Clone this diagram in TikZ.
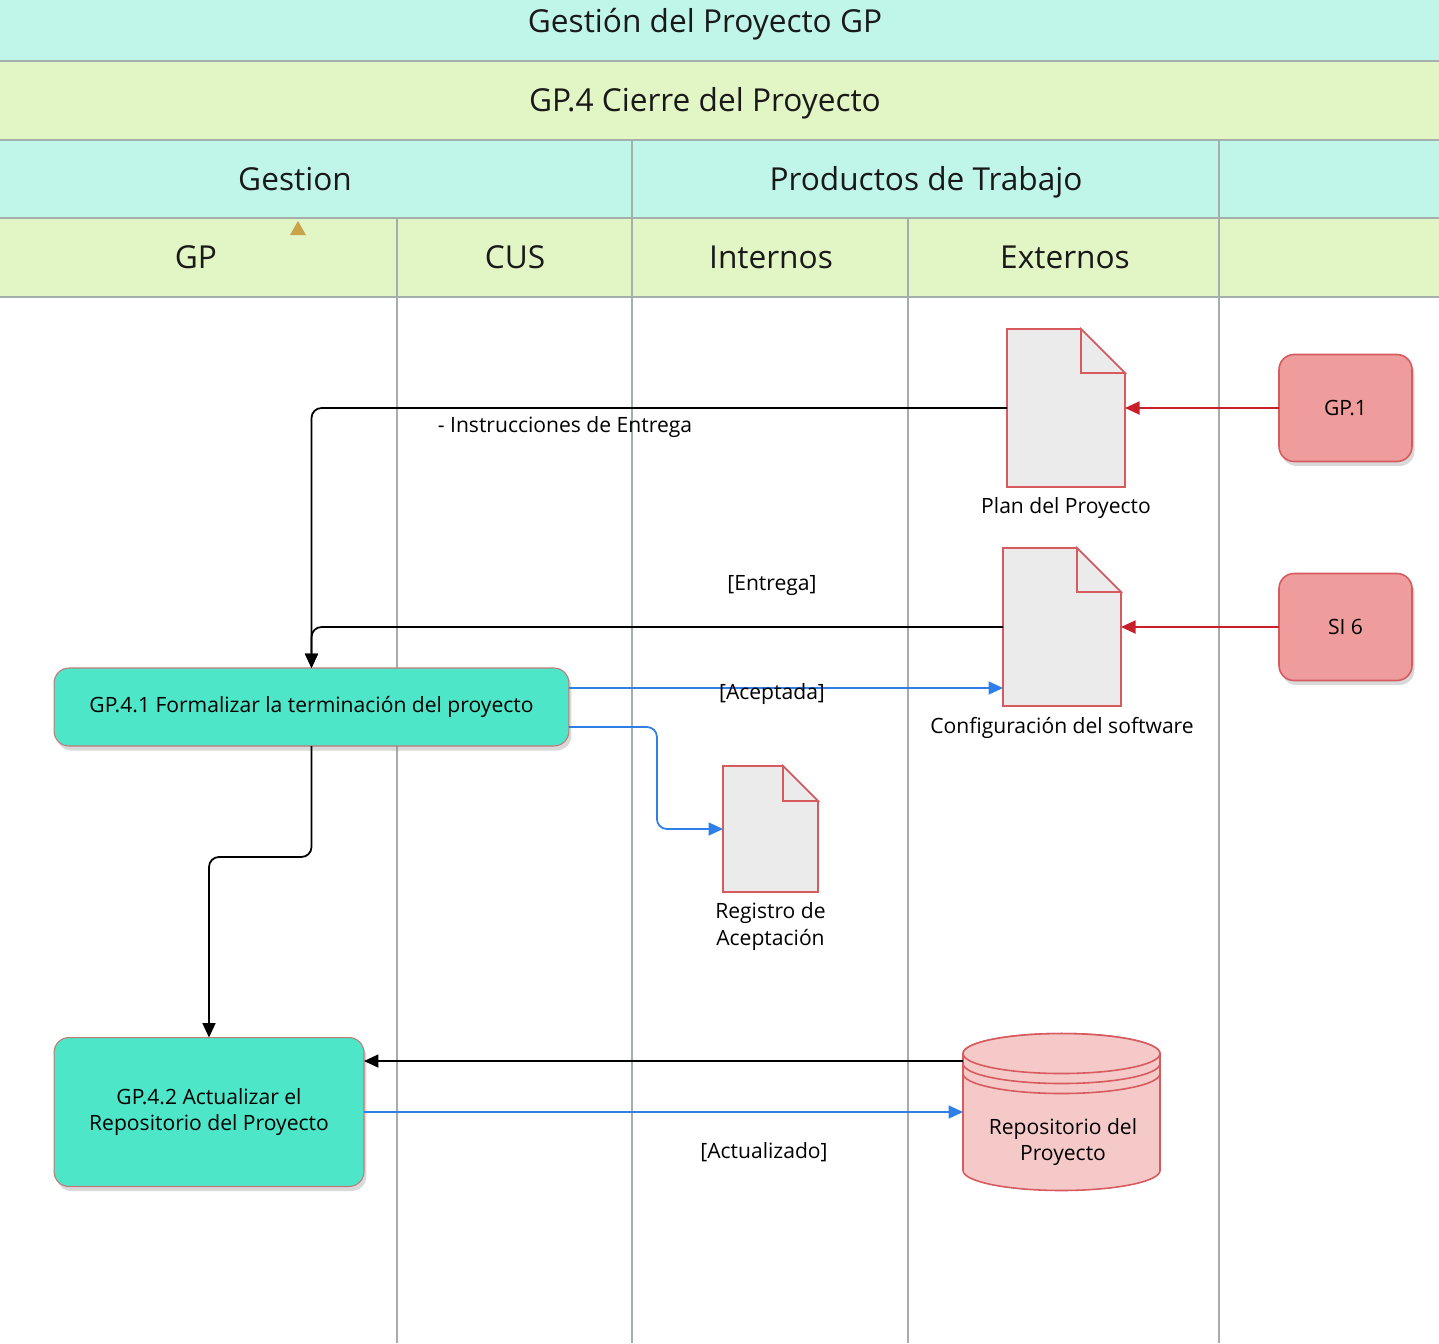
\documentclass[tikz,border=0pt]{standalone}
\usepackage{fontspec}
\setmainfont{Open Sans}
\usepackage{tikz}
\usetikzlibrary{arrows.meta,positioning,shadows}
\definecolor{HeadCyan}{HTML}{C0F5EA}
\definecolor{HeadGreen}{HTML}{E2F5C5}
\definecolor{Rule}{HTML}{A4AEAA}
\definecolor{Turq}{HTML}{4DE6C8}
\definecolor{TurqLine}{HTML}{C07A78}
\definecolor{Rose}{HTML}{EE9C9C}
\definecolor{RoseLine}{HTML}{D65A5E}
\definecolor{DocGray}{HTML}{EBEBEB}
\definecolor{RepoFill}{HTML}{F6C9C9}
\definecolor{Blue}{HTML}{2F7FE8}
\definecolor{Red}{HTML}{C8202A}
\definecolor{Mark}{HTML}{C9A24A}

\begin{document}
\begin{tikzpicture}[
  x=0.02cm,y=-0.02cm,
  node distance=2pt,
  title/.style={font=\fontsize{18}{22}\selectfont,text=black!90,anchor=base},
  lbl/.style={font=\fontsize{12}{15}\selectfont,align=center,inner sep=1pt},
  laneline/.style={draw=Rule,line width=1.6pt},
  hline/.style={draw=Rule,line width=1pt},
  task/.style={rounded corners=3mm,draw=TurqLine,fill=Turq,line width=0.6pt,inner sep=0pt,outer sep=0pt,
    align=center,font=\fontsize{12}{15}\selectfont,
    drop shadow={shadow xshift=0.5mm,shadow yshift=-0.9mm,opacity=0.3}},
  extern/.style={rounded corners=3mm,draw=RoseLine,fill=Rose,line width=0.9pt,inner sep=0pt,outer sep=0pt,
    minimum width=2.66cm,minimum height=2.14cm,font=\fontsize{12}{15}\selectfont,
    drop shadow={shadow xshift=0.5mm,shadow yshift=-0.9mm,opacity=0.3}},
  doc/.style={inner sep=0pt,outer sep=0pt},
  docline/.style={draw=RoseLine,fill=DocGray,line width=0.9pt,line join=miter},
  cylline/.style={draw=RoseLine,fill=RepoFill,line width=0.9pt},
  flow/.style={-{Triangle[length=2.9mm,width=2.6mm]},line width=1pt,draw=black,rounded corners=2mm},
  bflow/.style={-{Triangle[length=2.9mm,width=2.6mm]},line width=1pt,draw=Blue,rounded corners=2mm},
  rflow/.style={-{Triangle[length=2.9mm,width=2.6mm]},line width=1pt,draw=Red}
]
\useasboundingbox (0,0) rectangle (1439,1343);
% header bands
\fill[HeadCyan] (0,0) rectangle (1439,61);
\fill[HeadGreen] (0,61) rectangle (1439,140);
\fill[HeadCyan] (0,140) rectangle (1439,218);
\fill[HeadGreen] (0,218) rectangle (1439,297);
\foreach \y in {61,140,218,297} \draw[hline] (0,\y) -- (1439,\y);
\foreach \x in {632,1219} \draw[hline] (\x,140) -- (\x,218);
\foreach \x in {397,632,908,1219} \draw[laneline] (\x,218) -- (\x,1343);
\fill[Mark] (298,221) -- (306,235) -- (290,235) -- cycle;

\node[title] (proc) at (705,32) {Gestión del Proyecto GP};
\node[title] (phase) at (705,111) {GP.4 Cierre del Proyecto};
\node[title] (gestion) at (295,190) {Gestion};
\node[title] (prod) at (926,190) {Productos de Trabajo};
\node[title] (gp) at (196,268) {GP};
\node[title] (cus) at (515,268) {CUS};
\node[title] (int) at (771,268) {Internos};
\node[title] (ext) at (1065,268) {Externos};

% activities
\node[task,minimum width=10.3cm,minimum height=1.56cm] (gp41) at (311.5,707) {GP.4.1 Formalizar la terminación del proyecto};
\node[task,minimum width=6.2cm,minimum height=2.98cm] (gp42) at (209,1112) {GP.4.2 Actualizar el\\Repositorio del Proyecto};
\node[extern] (gp1) at (1345.5,408) {GP.1};
\node[extern] (si6) at (1345.5,627) {SI 6};

% work products
\node[doc,minimum width=2.36cm,minimum height=3.16cm] (plan) at (1066,408) {};
\node[doc,minimum width=2.36cm,minimum height=3.16cm] (conf) at (1062,627) {};
\node[doc,minimum width=1.9cm,minimum height=2.52cm] (reg) at (770.5,829) {};
\node[inner sep=0pt,outer sep=0pt,minimum width=3.94cm,minimum height=3.14cm] (repo) at (1061.5,1112) {};
\foreach \d/\f in {plan/0.88cm,conf/0.88cm,reg/0.7cm} {
  \draw[docline] (\d.south west) -- (\d.north west) -- ([xshift=-\f]\d.north east)
    -- ([yshift=-\f]\d.north east) -- (\d.south east) -- cycle;
  \draw[docline] ([xshift=-\f]\d.north east) |- ([yshift=-\f]\d.north east) -- cycle;
}
\begin{scope}[xshift=0.5mm,yshift=-0.9mm]
  \fill[black,opacity=0.15] ([yshift=-0.4cm]repo.north west) -- ([yshift=0.4cm]repo.south west)
    arc[start angle=180,end angle=360,x radius=1.97cm,y radius=0.4cm]
    -- ([yshift=-0.4cm]repo.north east)
    arc[start angle=0,end angle=180,x radius=1.97cm,y radius=0.4cm] -- cycle;
\end{scope}
\draw[cylline] ([yshift=-0.4cm]repo.north west) -- ([yshift=0.4cm]repo.south west)
  arc[start angle=180,end angle=360,x radius=1.97cm,y radius=0.4cm]
  -- ([yshift=-0.4cm]repo.north east)
  arc[start angle=0,end angle=180,x radius=1.97cm,y radius=0.4cm] -- cycle;
\draw[cylline] ([yshift=-0.4cm]repo.north) ellipse[x radius=1.97cm,y radius=0.4cm];
\draw[cylline,fill=none] ([yshift=-0.6cm]repo.north west) arc[start angle=180,end angle=360,x radius=1.97cm,y radius=0.4cm];
\draw[cylline,fill=none] ([yshift=-0.8cm]repo.north west) arc[start angle=180,end angle=360,x radius=1.97cm,y radius=0.4cm];

\node[lbl,below=5pt of plan] (planlbl) {Plan del Proyecto};
\node[lbl,below=5pt of conf] (conflbl) {Configuración del software};
\node[lbl,below=5pt of reg] (reglbl) {Registro de\\Aceptación};
\node[lbl] (repolbl) at (1063,1142) {Repositorio del\\Proyecto};

% connectors
\draw[rflow] (gp1.west) -- (plan.east);
\draw[rflow] (si6.west) -- (conf.east);
\draw[flow] (plan.west) -| (gp41.north);
\draw[flow] (conf.west) -| (gp41.north);
\draw[bflow] ([yshift=0.38cm]gp41.east) -- ([yshift=0.38cm]gp41.east -| conf.west);
\draw[bflow] ([yshift=-0.4cm]gp41.east) -- ++(1.76cm,0) |- (reg.west);
\draw[flow] (gp41.south) -- ++(0,-2.22cm) -| (gp42.north);
\draw[flow] ([yshift=1.02cm]gp42.east -| repo.west) -- ([yshift=1.02cm]gp42.east);
\draw[bflow] (gp42.east) -- (repo.west);

\node[lbl] (instr) at (565,427) {- Instrucciones de Entrega};
\node[lbl] (entrega) at (772,585) {[Entrega]};
\node[lbl] (acept) at (772,694) {[Aceptada]};
\node[lbl] (actual) at (764,1152) {[Actualizado]};
\end{tikzpicture}
\end{document}
